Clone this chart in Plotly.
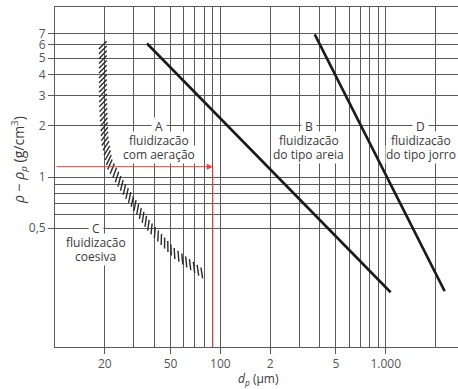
import numpy as np
import plotly.graph_objects as go

# ---- data ----
ab_x = [36, 1070]          # boundary A/B (dp, µm)
ab_y = [6.1, 0.21]         # rho - rho_p (g/cm3)
bd_x = [372, 2270]         # boundary B/D
bd_y = [6.9, 0.213]
ca_x = [19.45, 19.5, 20.0, 21.4, 25.0, 29.9, 37.0, 52.2, 79.4]   # hatched boundary C/A
ca_y = [6.13, 2.83, 1.66, 1.19, 0.911, 0.698, 0.514, 0.358, 0.267]
ex_dp = 90                 # red example
ex_rho = 1.15

x_tickvals = [20, 50, 100, 200, 500, 1000]
x_ticktext = ["20", "50", "100", "2", "5", "1.000"]
x_minor = [30, 40, 60, 70, 80, 90, 300, 400, 600, 700, 800, 900, 2000]
y_tickvals = [0.5, 1, 2, 3, 4, 5, 6, 7]
y_ticktext = ["0,5", "1", "2", "3", "4", "5", "6", "7"]
y_minor = [0.6, 0.7, 0.8, 0.9]

FONT = "Open Sans"
GRID = "#5a5a5a"
TXT = "#3a3a3a"

XR = [1.0, np.log10(2734)]
YR = [-1.0, 1.0]
PW, PH = 403, 340
KX = (XR[1] - XR[0]) / PW
KY = (YR[1] - YR[0]) / PH

fig = go.Figure()

# hatch strokes placed evenly along the C/A boundary (pixel arc length)
lx = np.log10(ca_x); ly = np.log10(ca_y)
px = (lx - XR[0]) / KX
py = (ly - YR[0]) / KY
seg = np.hypot(np.diff(px), np.diff(py))
s = np.concatenate([[0], np.cumsum(seg)])
ss = np.arange(2.0, s[-1], 4.8)
cx = np.interp(ss, s, px); cy = np.interp(ss, s, py)
dx = np.interp(ss, s, np.gradient(px, s)); dy = np.interp(ss, s, np.gradient(py, s))
nrm = np.hypot(dx, dy); dx /= nrm; dy /= nrm
ang = np.deg2rad(-45)
sx = np.cos(ang) * dx - np.sin(ang) * dy
sy = np.sin(ang) * dx + np.cos(ang) * dy
half = 5.5
hx, hy = [], []
for i in range(len(ss)):
    for sgn in (-1, 1):
        hx.append(10 ** (XR[0] + (cx[i] + sgn * half * sx[i]) * KX))
        hy.append(10 ** (YR[0] + (cy[i] + sgn * half * sy[i]) * KY))
    hx.append(None); hy.append(None)
fig.add_trace(go.Scatter(x=hx, y=hy, mode="lines", line=dict(width=1.4, color="#2a2a2a"),
                         hoverinfo="skip", showlegend=False))

fig.add_trace(go.Scatter(x=ab_x, y=ab_y, mode="lines",
                         line=dict(color="#1a1a1a", width=2.6), showlegend=False))
fig.add_trace(go.Scatter(x=bd_x, y=bd_y, mode="lines",
                         line=dict(color="#1a1a1a", width=2.6), showlegend=False))

# red example lines
fig.add_trace(go.Scatter(x=[ex_dp, ex_dp], y=[ex_rho, 0.1], mode="lines",
                         line=dict(color="#e8413c", width=1), showlegend=False))
fig.add_annotation(x=np.log10(ex_dp), y=np.log10(ex_rho), ax=np.log10(10), ay=np.log10(ex_rho),
                   xref="x", yref="y", axref="x", ayref="y", text="", showarrow=True,
                   arrowhead=2, arrowsize=1.2, arrowwidth=1, arrowcolor="#e8413c")

def label(xv, ypix, text):
    fig.add_annotation(x=np.log10(xv), y=YR[0] + (347 - ypix) * KY, xref="x", yref="y",
                       text=text, showarrow=False, bgcolor="white", borderpad=0,
                       yanchor="middle", xanchor="center",
                       font=dict(family=FONT, size=12, color=TXT))

for xv, lines in [(42.4, ["A", "fluidização", "com aeração"]),
                  (342, ["B", "fluidização", "do tipo areia"]),
                  (1630, ["D", "fluidização", "do tipo jorro"]),
                  (17.6, ["C", "fluidização", "coesiva"])]:
    y0 = 228 if lines[0] == "C" else 126
    label(xv, y0, "&nbsp;" + lines[0] + "&nbsp;")
    label(xv, y0 + 14, lines[1])
    label(xv, y0 + 28, lines[2])

fig.add_annotation(x=(19 - 55) / PW, y=(347 - 160) / PH, xref="paper", yref="paper",
                   xanchor="center", yanchor="middle",
                   text="<i>ρ</i> − <i>ρ<sub>p</sub></i> (g/cm<sup>3</sup>)", textangle=-90,
                   showarrow=False, font=dict(family=FONT, size=14, color=TXT))
fig.add_annotation(x=(258 - 55) / PW, y=(347 - 379) / PH, xref="paper", yref="paper",
                   xanchor="center", yanchor="middle",
                   text="<i>d<sub>p</sub></i> (µm)", showarrow=False,
                   font=dict(family=FONT, size=12, color=TXT))

axis_common = dict(showgrid=True, gridcolor=GRID, gridwidth=1, zeroline=False,
                   showline=True, linecolor=GRID, linewidth=1, ticks="outside",
                   ticklen=6, tickcolor=GRID, tickfont=dict(family=FONT, size=12, color="#555"),
                   automargin=False)

fig.update_xaxes(type="log", range=XR, tickvals=x_tickvals, ticktext=x_ticktext, mirror=True,
                 minor=dict(tickvals=x_minor, showgrid=True, gridcolor=GRID, gridwidth=1, ticks=""),
                 **axis_common)
fig.update_yaxes(type="log", range=YR, tickvals=y_tickvals, ticktext=y_ticktext,
                 minor=dict(tickvals=y_minor, showgrid=True, gridcolor=GRID, gridwidth=1, ticks=""),
                 **axis_common)

fig.update_layout(width=458, height=389,
                  margin=dict(l=55, r=0, t=7, b=42, pad=0, autoexpand=False),
                  plot_bgcolor="white", paper_bgcolor="white", showlegend=False,
                  font=dict(family=FONT, size=12, color=TXT))

fig.write_html("out.html", config={"displayModeBar": False},
               post_script="document.body.style.margin='0';document.body.style.overflow='hidden';")
